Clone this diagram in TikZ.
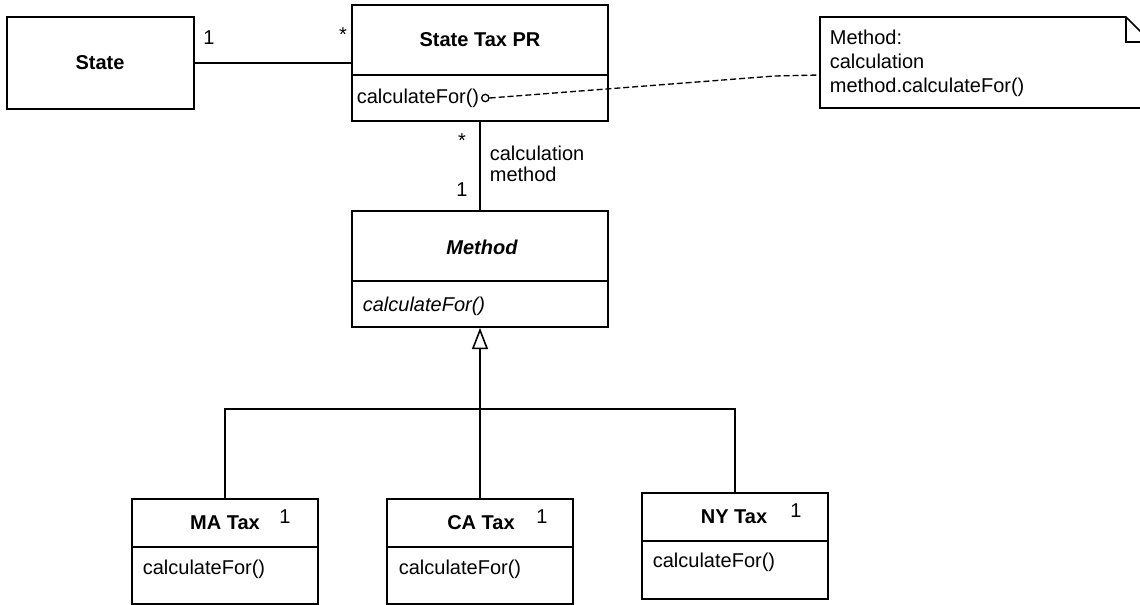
\documentclass[tikz,border=0pt]{standalone}
\usepackage{fontspec}
\setmainfont{Liberation Sans}
\usetikzlibrary{arrows.meta,fit}
\begin{document}
\begin{tikzpicture}[x=0.75pt,y=-0.75pt,
  line width=1.3pt,
  umlbox/.style={draw, inner sep=0pt, line width=1.3pt},
  txt/.style={inner sep=0pt, font=\fontsize{15}{17}\selectfont},
  ttl/.style={txt, font=\fontsize{15}{17}\selectfont\bfseries},
  lft/.style={txt, anchor=west},
  gen/.style={-{Triangle[open,length=16pt,width=12pt,line width=1.2pt]}},
  dashline/.style={line width=1pt, dash pattern=on 4.5pt off 2.2pt}
]
\useasboundingbox (0,0) rectangle (1140,605);
\clip (0,0) rectangle (1140,605);

% State
\node[umlbox, fit={(7,17) (194,109)}] (state) {};
\node[ttl] (statet) at (100,63) {State};

% State Tax PR
\node[umlbox, fit={(352,5) (608,121)}] (stpr) {};
\draw (352,75) -- (608,75);
\node[ttl] (stprt) at (480,40) {State Tax PR};
\node[lft] (stprop) at (356,98) {calculateFor()};
\node[circle, draw, inner sep=0pt, minimum size=5.5pt, line width=1pt] (dot) at (stprop.east) [xshift=4pt] {};

% Note
\node[inner sep=0pt, fit={(820,17) (1151,108)}] (note) {};
\draw (820,17) -- (1126,17) -- (1151,42) -- (1151,108) -- (820,108) -- cycle;
\draw (1126,17) -- (1126,42) -- (1151,42);
\node[txt, anchor=north west, align=left, font=\fontsize{15}{18}\selectfont] (notet) at (829,29) {Method:\\calculation\\method.calculateFor()};
\coordinate (notein) at (820,75);
\draw[dashline] (dot.east) -- (775,76) -- (notein);

% State -- State Tax PR
\draw (state.east) -- (state.east -| stpr.west);
\node[txt] (m1) at (209,38) {1};
\node[txt] (m2) at (343,35) {*};

% Method
\node[umlbox, fit={(352,211) (608,327)}] (method) {};
\draw (352,281) -- (608,281);
\node[ttl, font=\fontsize{15}{17}\selectfont\bfseries\itshape] (methodt) at (482,247) {Method};
\node[lft, font=\fontsize{15}{17}\selectfont\itshape] (methodop) at (362,306) {calculateFor()};

% StateTaxPR -- Method
\draw (stpr.south) -- (method.north);
\node[txt] (m3) at (462,141) {*};
\node[txt] (m4) at (462,190) {1};
\node[txt, anchor=west, align=left, font=\fontsize{15}{15.8}\selectfont] (assoc) at (489,164) {calculation\\method};

% Subclasses
\node[umlbox, fit={(132,499) (318,604)}] (ma) {};
\draw (132,547) -- (318,547);
\node[ttl] (mat) at (225,523) {MA Tax};
\node[txt] (ma1) at (285,517) {1};
\node[lft] (maop) at (142,569) {calculateFor()};

\node[umlbox, fit={(387,499) (573,604)}] (ca) {};
\draw (387,547) -- (573,547);
\node[ttl] (cat) at (481,523) {CA Tax};
\node[txt] (ca1) at (542,517) {1};
\node[lft] (caop) at (398,569) {calculateFor()};

\node[umlbox, fit={(642,493) (828,599)}] (ny) {};
\draw (642,541) -- (828,541);
\node[ttl] (nyt) at (734,517) {NY Tax};
\node[txt] (ny1) at (796,511) {1};
\node[lft] (nyop) at (652,562) {calculateFor()};

% Generalization
\coordinate (bus) at (480,409);
\draw[gen] (bus) -- (method.south);
\draw (ma.north) |- (bus) -| (ny.north);
\draw (ca.north) -- (bus);
\end{tikzpicture}
\end{document}
